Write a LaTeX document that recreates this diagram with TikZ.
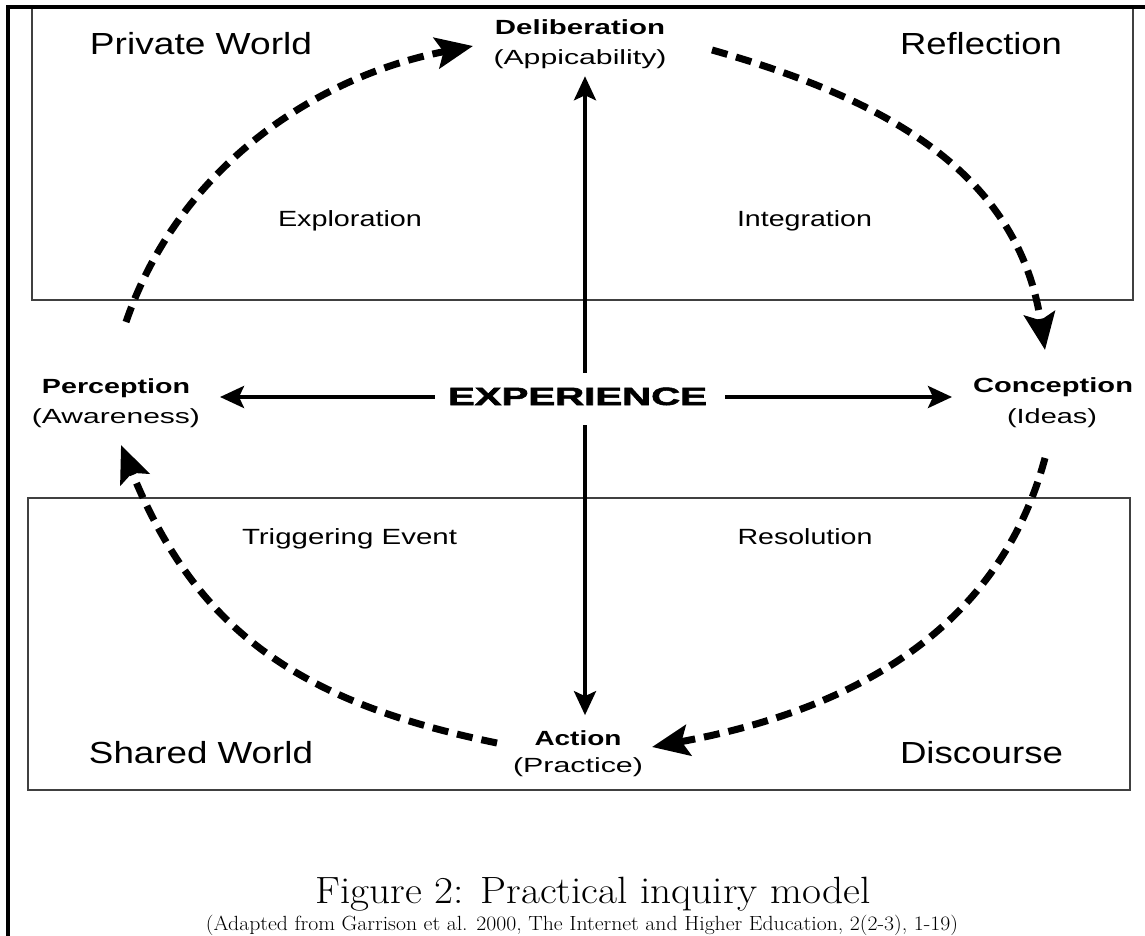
\documentclass[tikz,border=0pt]{standalone}
\usepackage{fontspec}
\usepackage{graphicx}
\newfontfamily\sansf{Liberation Sans}
\usetikzlibrary{arrows.meta}
\newcommand\fw[2]{\resizebox{#1pt}{\height}{#2}}
\tikzset{
  big/.style={font=\sansf\fontsize{30.5}{36}\selectfont, inner sep=0pt, anchor=base},
  mid/.style={font=\sansf\fontsize{22}{26}\selectfont, inner sep=0pt, anchor=base},
  small/.style={font=\sansf\fontsize{20.5}{24}\selectfont, inner sep=0pt, anchor=base},
  smallb/.style={font=\sansf\bfseries\fontsize{20.5}{24}\selectfont, inner sep=0pt, anchor=base},
  panel/.style={draw=black!75, line width=2pt},
  sarr/.style={line width=4pt, -{Stealth[length=24pt,width=22pt,inset=5pt]}},
  darc/.style={line width=7pt, dash pattern=on 16pt off 9pt, -{Stealth[length=37pt,width=31pt,inset=7pt]}},
}
\begin{document}
\begin{tikzpicture}[x=1pt,y=-1pt]
\useasboundingbox (0,0) rectangle (1145,936);
% panels
\draw[panel] (32,7) rectangle (1133,300);
\draw[panel] (28,497.5) rectangle (1129.5,789.5);
% frame
\draw[line width=3.5pt] (8,940) -- (8,7) -- (1150,7);
% region labels
\node[big] (pw) at (201,55) {\fw{222}{Private World}};
\node[big] (refl) at (981,55) {\fw{162}{Reflection}};
\node[big] (sw) at (201,763) {\fw{224}{Shared World}};
\node[big] (disc) at (981.5,763) {\fw{163}{Discourse}};
\node[mid] (expl) at (350,226) {\fw{144}{Exploration}};
\node[mid] (integ) at (804.5,226) {\fw{135}{Integration}};
\node[mid] (trig) at (349.5,544) {\fw{215}{Triggering Event}};
\node[mid] (resol) at (805,544) {\fw{135}{Resolution}};
% phase labels
\node[smallb] (delib) at (580,35) {\fw{170}{Deliberation}};
\node[small, outer ysep=7pt] (delibsub) at (580,65) {\fw{173}{(Appicability)}};
\node[smallb, outer xsep=30pt] (perc) at (116,393) {\fw{148}{Perception}};
\node[small] (percsub) at (116,423) {\fw{168}{(Awareness)}};
\node[smallb, outer xsep=21pt] (conc) at (1053,392) {\fw{160}{Conception}};
\node[small] (concsub) at (1052,423) {\fw{90}{(Ideas)}};
\node[smallb, outer ysep=15pt] (act) at (578,745) {\fw{87}{Action}};
\node[small] (actsub) at (578,772) {\fw{130}{(Practice)}};
% centre
\node[font=\sansf\bfseries\fontsize{25}{30}\selectfont\addfontfeature{FakeBold=2}, anchor=base, inner sep=0pt,
      text height=32pt, text depth=20pt] (exp) at (580,405)
      {\hspace*{13pt}\fw{259}{EXPERIENCE}\hspace*{18pt}};
\coordinate (hub) at (585,397);
\draw[sarr] (exp.north -| hub) -- (delibsub.south -| hub);
\draw[sarr] (exp.south -| hub) -- (act.north -| hub);
\draw[sarr] (exp.west |- hub) -- (perc.east |- hub);
\draw[sarr] (exp.east |- hub) -- (conc.west |- hub);
% cycle arcs
\coordinate (a1s) at (126,322); \coordinate (a1e) at (473,46);
\coordinate (a2s) at (712,50);  \coordinate (a2e) at (1045,350);
\coordinate (a3s) at (1045,458); \coordinate (a3e) at (652,747);
\coordinate (a4s) at (497,743); \coordinate (a4e) at (121,445);
\draw[darc] (a1s) .. controls (178,170) and (313,77) .. (a1e);
\draw[darc] (a2s) .. controls (885,99) and (1018,172) .. (a2e);
\draw[darc] (a3s) .. controls (998,633) and (848,711) .. (a3e);
\draw[darc] (a4s) .. controls (301,703) and (196,631) .. (a4e);
% caption
\node[font=\fontsize{38}{44}\selectfont\addfontfeature{FakeBold=0.6}, anchor=base, inner sep=0pt] (cap) at (593,903)
  {\fw{555}{Figure 2: Practical inquiry model}};
\node[font=\fontsize{20.5}{24}\selectfont\addfontfeature{FakeBold=1}, anchor=base, inner sep=0pt] (src) at (582,930)
  {\fw{752}{(Adapted from Garrison et al. 2000, The Internet and Higher Education, 2(2-3), 1-19)}};
\end{tikzpicture}
\end{document}
